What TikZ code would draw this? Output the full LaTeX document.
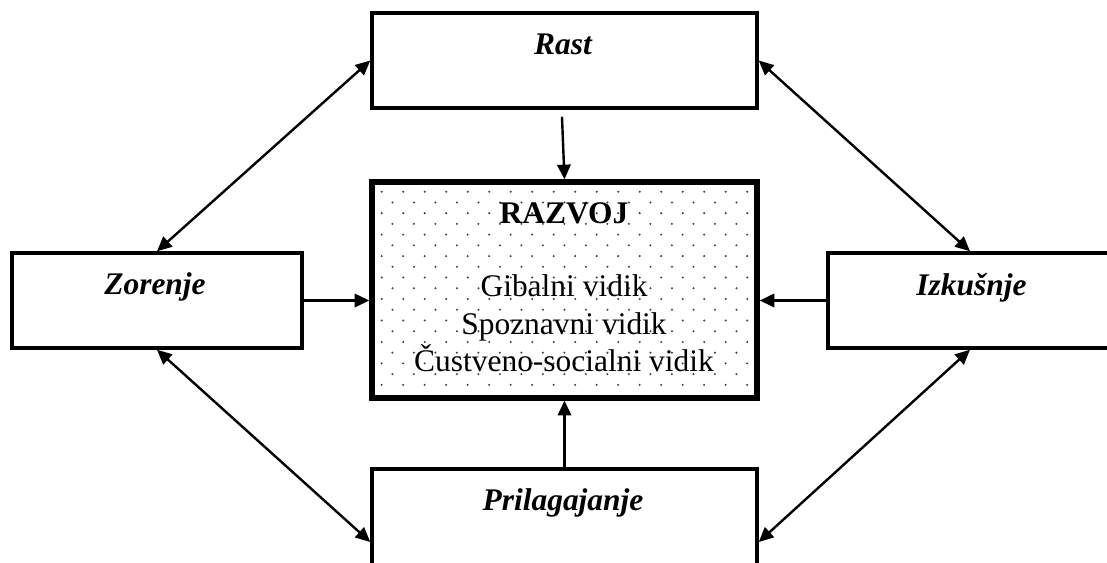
\documentclass[tikz,border=0pt]{standalone}
\usepackage{fontspec}
\setmainfont{Liberation Serif}
\usetikzlibrary{arrows.meta,calc}
\begin{document}
\begin{tikzpicture}[x=0.75pt,y=-0.75pt,
 box/.style={draw,line width=2.6pt,minimum width=288.75pt,minimum height=71.25pt,inner sep=0pt},
 sidebox/.style={box,minimum width=217.5pt},
 mainbox/.style={draw,line width=4pt,minimum width=288.75pt,minimum height=162pt,inner sep=0pt},
 lbl/.style={font=\fontsize{23.6}{28}\selectfont\bfseries\itshape,anchor=base,inner sep=0pt},
 txt/.style={font=\fontsize{23.6}{28}\selectfont,anchor=base,inner sep=0pt},
 ttl/.style={txt,font=\fontsize{23.6}{28}\selectfont\bfseries},
 dotfill/.style={fill=black!75},
 arr/.style={line width=1.8pt,-{Triangle[length=11pt,width=10pt]}},
 darr/.style={line width=1.8pt,{Triangle[length=11pt,width=10pt]}-{Triangle[length=11pt,width=10pt]}}]
\useasboundingbox (0,0) rectangle (1107,562);
\clip (0,0) rectangle (1107,562);
% dotted background of the central box
\begin{scope}
\clip (375,185) rectangle (754,395);
\foreach \k in {0,...,18}{
  \foreach \j in {0,...,17}{
    \fill[dotfill] ({381.7+\j*21.5+mod(\k,2)*10.75},{191.7+\k*10.73}) circle (0.85pt);
  }
}
\end{scope}
% boxes
\node[box] (rast) at (564.5,60.5) {};
\node[sidebox] (zor) at (157,300.5) {};
\node[sidebox] (izk) at (973,300.5) {};
\node[box,minimum height=75pt] (prilag) at (564.5,519) {};
\node[mainbox] (razvoj) at (564.5,290) {};
% labels
\node[lbl] (rastt) at (563,54) {Rast};
\node[lbl] (zort) at (155,294) {Zorenje};
\node[lbl] (izkt) at (971.5,295) {Izkušnje};
\node[lbl] (prilagt) at (563,510.7) {Prilagajanje};
\node[ttl] (razvojt) at (564,223) {RAZVOJ};
\node[txt] (gib) at (564,296.7) {Gibalni vidik};
\node[txt] (spo) at (564,334) {Spoznavni vidik};
\node[txt] (cus) at (564,371.7) {Čustveno-socialni vidik};
% connectors
\draw[arr] ([xshift=-1.9pt,yshift=-5.25pt]rast.south) -- (razvoj.north);
\draw[arr] (prilag.north) -- (razvoj.south);
\draw[arr] (zor.east) -- (zor.east -| razvoj.west);
\draw[arr] (izk.west) -- (izk.west -| razvoj.east);
\draw[darr] (rast.west) -- (zor.north);
\draw[darr] (zor.south) -- ([yshift=-17.25pt]prilag.west);
\draw[darr] (rast.east) -- ([xshift=-2.25pt]izk.north);
\draw[darr] ([xshift=-2.25pt]izk.south) -- ([yshift=-17.25pt]prilag.east);
\end{tikzpicture}
\end{document}
